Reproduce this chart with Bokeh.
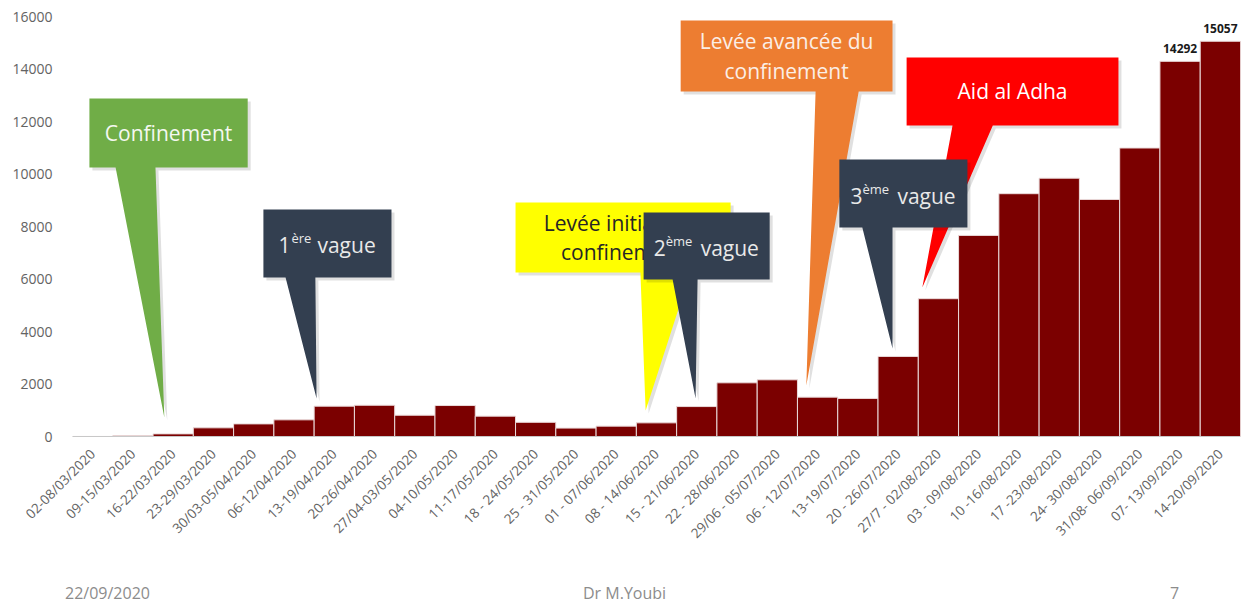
from bokeh.plotting import figure
from bokeh.layouts import column
from bokeh.models import ColumnDataSource, FixedTicker, LabelSet, Div
from bokeh.core.properties import value
from bokeh.embed import file_html
from bokeh.resources import INLINE
import math

# Weekly new COVID-19 cases, Morocco, March - September 2020
weeks = [
    "02-08/03/2020", "09-15/03/2020", "16-22/03/2020", "23-29/03/2020",
    "30/03-05/04/2020", "06-12/04/2020", "13-19/04/2020", "20-26/04/2020",
    "27/04-03/05/2020", "04-10/05/2020", "11-17/05/2020", "18 - 24/05/2020",
    "25 - 31/05/2020", "01 - 07/06/2020", "08 - 14/06/2020", "15 - 21/06/2020",
    "22 - 28/06/2020", "29/06 - 05/07/2020", "06 - 12/07/2020", "13-19/07/2020",
    "20 - 26/07/2020", "27/7 - 02/08/2020", "03 - 09/08/2020", "10 -16/08/2020",
    "17 -23/08/2020", "24- 30/08/2020", "31/08- 06/09/2020", "07- 13/09/2020",
    "14-20/09/2020",
]
cases = [
    2, 28, 100, 330, 480, 635, 1155, 1190, 810, 1180, 775, 540, 320, 395,
    520, 1140, 2045, 2160, 1500, 1450, 3050, 5250, 7660, 9250, 9840, 9030,
    10990, 14292, 15057,
]
labelled_weeks = [27, 28]
y_ticks = [0, 2000, 4000, 6000, 8000, 10000, 12000, 14000, 16000]
footer = ["22/09/2020", "Dr M.Youbi", "7"]

FONT = "Open Sans"
W, H, FOOT_H = 1247, 603, 43
LEFT, RIGHT, TOP, BOTTOM = 72, 7, 16, 124
Y_MAX = 16000
PH = H - FOOT_H
UX = len(weeks) / (W - LEFT - RIGHT)       # x data units per pixel
UY = Y_MAX / (PH - TOP - BOTTOM)           # y data units per pixel

p = figure(width=W, height=PH, output_backend="svg", toolbar_location=None,
           x_range=(-0.5, len(weeks) - 0.5), y_range=(0, Y_MAX),
           min_border_left=LEFT, min_border_right=RIGHT,
           min_border_top=TOP, min_border_bottom=BOTTOM)
p.outline_line_color = None
p.grid.visible = False
p.background_fill_color = "white"
p.border_fill_color = "white"

src = ColumnDataSource(dict(x=list(range(len(weeks))), cases=cases))
p.vbar(x="x", top="cases", width=1.0, source=src, fill_color="#7b0000",
       line_color="#eadada", line_width=1)

# axes
p.xaxis.ticker = FixedTicker(ticks=list(range(len(weeks))))
p.xaxis.major_label_overrides = {i: w for i, w in enumerate(weeks)}
p.xaxis.major_label_orientation = math.pi / 4
p.xaxis.major_tick_line_color = None
p.xaxis.minor_tick_line_color = None
p.xaxis.axis_line_color = "#c8c8c8"
p.xaxis.major_label_standoff = 9
p.yaxis.ticker = FixedTicker(ticks=y_ticks)
p.yaxis.axis_line_color = None
p.yaxis.major_tick_line_color = None
p.yaxis.minor_tick_line_color = None
p.yaxis.major_label_standoff = 14
p.xaxis.major_label_text_font_size = "13.5px"
p.yaxis.major_label_text_font_size = "14px"
for ax in (p.xaxis[0], p.yaxis[0]):
    ax.major_label_text_font = FONT
    ax.major_label_text_color = "#636363"

# value labels on the last two weeks
vsrc = ColumnDataSource(dict(
    x=labelled_weeks,
    y=[cases[i] for i in labelled_weeks],
    t=[str(cases[i]) for i in labelled_weeks],
))
p.add_layout(LabelSet(x="x", y="y", text="t", source=vsrc, y_offset=8,
                      text_align="center", text_baseline="bottom",
                      text_font=value(FONT), text_font_size="12px",
                      text_font_style="bold", text_color="#1a1a1a"))

# callouts: box (x0, x1, y0, y1), pointer base (b0, b1) and tip (tx, ty)
callouts = [
    dict(color="#70ad47", box=(-0.08, 3.85, 10248, 12876), base=(0.57, 1.56),
         tip=(1.78, 724), text="Confinement", tcolor="#f4f8f0"),
    dict(color="#333f50", box=(4.24, 7.42, 6057, 8648), base=(4.79, 5.53),
         tip=(5.56, 1448), sup=("1", "ère"), tcolor="#e9e9e9", offs=(-49, -36, -10)),
    dict(color="#ffff00", box=(10.50, 15.84, 6248, 8914), base=(13.60, 14.84),
         tip=(13.73, 990), text="Levée initiale du\nconfinement", tcolor="#262626"),
    dict(color="#333f50", box=(13.68, 16.81, 5981, 8533), base=(14.40, 15.02),
         tip=(14.97, 1448), sup=("2", "ème"), tcolor="#e9e9e9", offs=(-53, -41, -6)),
    dict(color="#ed7d31", box=(14.60, 19.86, 13143, 15848), base=(17.95, 19.02),
         tip=(17.72, 1943), text="Levée avancée du\nconfinement", tcolor="#fbeee6"),
    dict(color="#ff0000", box=(20.21, 25.47, 11848, 14438), base=(21.35, 22.35),
         tip=(20.60, 5676), text="Aid al Adha", tcolor="#ffffff"),
    dict(color="#333f50", box=(18.54, 21.72, 7962, 10552), base=(19.11, 19.86),
         tip=(19.86, 3352), sup=("3", "ème"), tcolor="#e9e9e9", offs=(-53, -41, -6)),
]

for c in callouts:
    x0, x1, y0, y1 = c["box"]
    b0, b1 = c["base"]
    tx, ty = c["tip"]
    xs = [x0, x1, x1, b1, tx, b0, x0]
    ys = [y1, y1, y0, y0, ty, y0, y0]
    # soft drop shadow
    p.patch([v + 3 * UX for v in xs], [v - 3 * UY for v in ys],
            fill_color="black", fill_alpha=0.12, line_color=None)
    p.patch(xs, ys, fill_color=c["color"], line_color=None)
    cx, cy = (x0 + x1) / 2, (y0 + y1) / 2
    if "text" in c:
        p.text(x=[cx], y=[cy], text=[c["text"]], text_font=value(FONT),
               text_font_size="21px", text_color=c["tcolor"],
               text_align="center", text_baseline="middle",
               text_line_height=1.05)
    else:
        num, sup = c["sup"]
        o1, o2, o3 = c["offs"]
        base_y = cy - 2 * UY
        p.text(x=[cx + o1 * UX, cx + o3 * UX], y=[base_y, base_y],
               text=[num, "vague"], text_font=value(FONT),
               text_font_size="21px", text_color=c["tcolor"],
               text_align="left", text_baseline="alphabetic")
        p.text(x=[cx + o2 * UX], y=[cy + 5 * UY], text=[sup], text_font=value(FONT),
               text_font_size="13px", text_color=c["tcolor"],
               text_align="left", text_baseline="alphabetic")

# slide footer
spans = "".join(
    f'<span style="position:absolute;top:22px;{pos}">{t}</span>'
    for t, pos in zip(footer, ["left:65px", "left:583px", "left:1170px"])
)
foot = Div(text=f'<div style="position:relative;width:{W}px;height:{FOOT_H}px;'
                f'font-family:\'{FONT}\';font-size:16px;line-height:22px;'
                f'color:#8c8c8c">{spans}</div>',
           width=W, height=FOOT_H, margin=0)

layout = column(p, foot, spacing=0)
open("out.html", "w").write(file_html(layout, INLINE))
